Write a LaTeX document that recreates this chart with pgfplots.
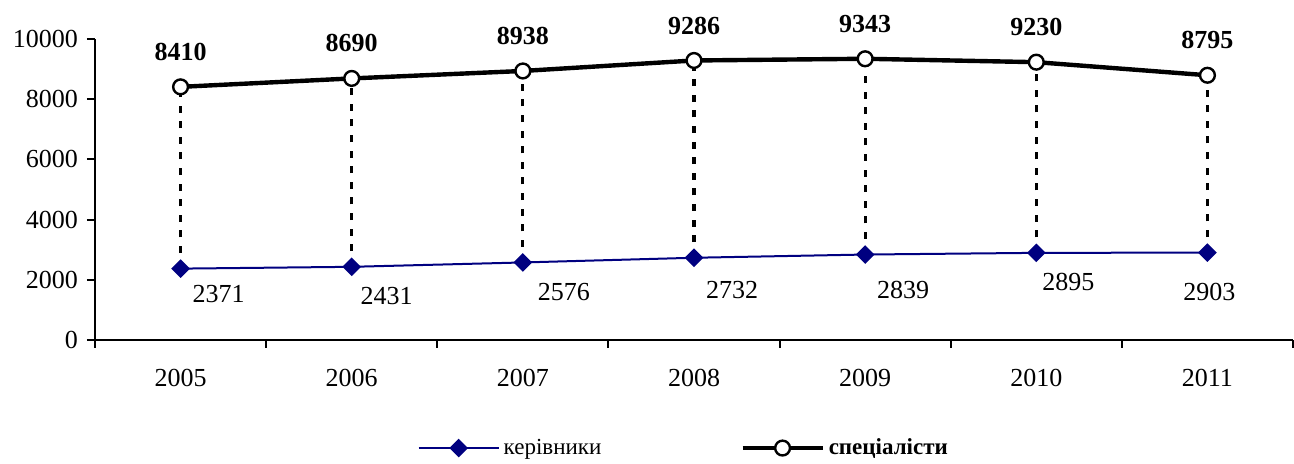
\documentclass[border=0pt]{standalone}
\usepackage{fontspec}
\setmainfont{Liberation Serif}
\usepackage{pgfplots}
\pgfplotsset{compat=1.18}
\definecolor{navy}{RGB}{0,0,128}
\newcommand{\mlab}[4]{\addplot[forget plot, only marks, mark=none, nodes near coords, point meta=explicit symbolic,
  every node near coord/.append style={font=\fontsize{13}{15}\selectfont, anchor=center, xshift=#3, yshift=#4}]
  coordinates {(#1,#2)[#2]};}
\begin{document}
\begin{tikzpicture}[font=\fontsize{13}{15}\selectfont]
\begin{axis}[
  at={(47.5pt,62pt)}, anchor=south west,
  scale only axis, width=599pt, height=150.5pt,
  xmin=-0.5, xmax=6.5, ymin=0, ymax=10000,
  axis x line=bottom, axis y line=left,
  axis line style={line width=1pt, -},
  tick align=outside, xtick pos=bottom, ytick pos=left,
  xtick={-0.5,0.5,...,6.5}, xticklabels={},
  extra x ticks={0,...,6},
  extra x tick labels={2005,2006,2007,2008,2009,2010,2011},
  extra x tick style={major tick length=0pt, xticklabel style={yshift=-11pt}},
  major tick length=4pt,
  tick style={line width=1pt,black},
  ytick={0,2000,...,10000},
  scaled y ticks=false,
  yticklabel style={/pgf/number format/1000 sep={}, xshift=-1pt},
  /pgf/number format/assume math mode=true,
  clip=false,
  unbounded coords=jump,
  legend style={at={(0.4923,-0.359)}, anchor=center, draw=none, fill=none,
    legend columns=2, /tikz/every even column/.append style={column sep=67.5pt},
    font=\fontsize{11.5}{14}\selectfont},
  legend cell align=left,
  legend image code/.code={\draw[mark repeat=2,mark phase=2,#1] plot coordinates {(0pt,0pt) (20pt,0pt) (40pt,0pt)};},
]
% drop lines
\addplot[forget plot, black, line width=1.6pt, dash pattern=on 3.5pt off 4.3pt] coordinates {
(0,2371)(0,8410)(0,nan)
(1,2431)(1,8690)(1,nan)
(2,2576)(2,8938)(2,nan)
(3,2732)(3,9286)(3,nan)
(4,2839)(4,9343)(4,nan)
(5,2895)(5,9230)(5,nan)
(6,2903)(6,8795)
};
\addplot[navy, line width=1pt, mark=square*, mark size=2.8pt, mark options={fill=navy, rotate=45}] coordinates {
(0,2371)(1,2431)(2,2576)(3,2732)(4,2839)(5,2895)(6,2903)};
\addlegendentry{керівники}
\addplot[black, line width=2.2pt, mark=*, mark size=3.7pt, mark options={fill=white, line width=1.2pt}] coordinates {
(0,8410)(1,8690)(2,8938)(3,9286)(4,9343)(5,9230)(6,8795)};
\addlegendentry{\textbf{спеціалісти}}
% labels
\addplot[forget plot, only marks, mark=none, nodes near coords, point meta=explicit symbolic,
  every node near coord/.append style={font=\fontsize{13}{15}\selectfont\bfseries, anchor=center, yshift=17.5pt}]
  coordinates {(0,8410)[8410](1,8690)[8690](2,8938)[8938](3,9286)[9286](4,9343)[9343](5,9230)[9230](6,8795)[8795]};
\mlab{0}{2371}{19pt}{-12.5pt}
\mlab{1}{2431}{17.5pt}{-14.5pt}
\mlab{2}{2576}{20.5pt}{-14.75pt}
\mlab{3}{2732}{19pt}{-16pt}
\mlab{4}{2839}{19pt}{-17.5pt}
\mlab{5}{2895}{16pt}{-14.75pt}
\mlab{6}{2903}{1pt}{-19.5pt}
\end{axis}
\pgfresetboundingbox
\path[use as bounding box] (0,0) rectangle (647pt,232pt);
\end{tikzpicture}
\end{document}
